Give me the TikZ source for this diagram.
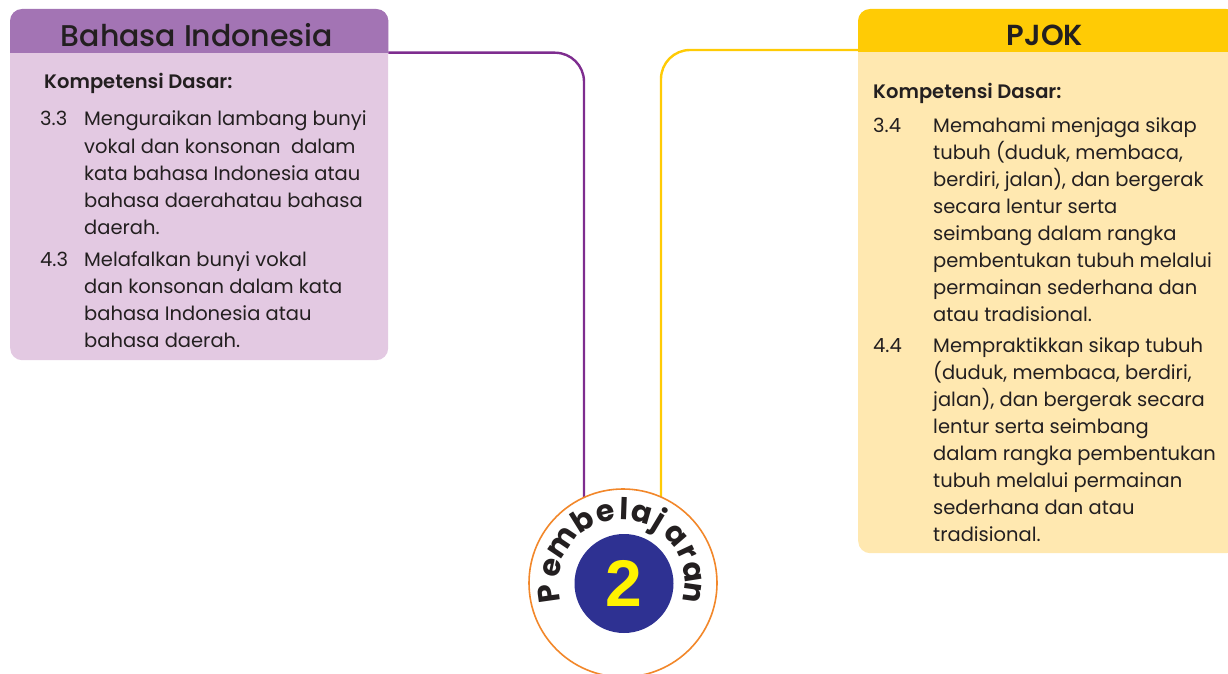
\documentclass[tikz,border=0pt]{standalone}
\usepackage{fontspec}
\setmainfont{Poppins}
\newfontfamily\ringfont{Poppins}
\newfontfamily\twofont{Liberation Sans}
\newfontfamily\medfont{Poppins Medium}
\newfontfamily\semifont{Poppins SemiBold}
\definecolor{purpHead}{HTML}{A374B4}
\definecolor{purpBody}{HTML}{E3C9E2}
\definecolor{purpLine}{HTML}{7E2D8F}
\definecolor{yelHead}{HTML}{FFCB05}
\definecolor{yelBody}{HTML}{FFE8B0}
\definecolor{yelLine}{HTML}{FFCB05}
\definecolor{orng}{HTML}{F2872A}
\definecolor{navy}{HTML}{2E3192}
\definecolor{numYel}{HTML}{FFF200}
\definecolor{txt}{HTML}{231F20}
\tikzset{
  title/.style={font=\medfont\fontsize{30}{32}\selectfont, text=txt, anchor=base, inner sep=0},
  kd/.style={font=\semifont\fontsize{19.5}{22}\selectfont, text=txt, anchor=base west, inner sep=0},
  num/.style={font=\fontsize{19.5}{27}\selectfont, text=txt, anchor=base west, inner sep=0},
  body/.style={font=\fontsize{19.5}{27}\selectfont, text=txt, anchor=base west, inner sep=0},
  conn/.style={line width=2.4, rounded corners=29},
  letter/.style={font=\ringfont\bfseries\fontsize{30}{30}\selectfont, text=txt, anchor=base, inner sep=0}
}
\newcommand{\para}[2]{\parbox[t]{#1pt}{\raggedright\fontsize{19.5}{27.1}\selectfont #2}}
\begin{document}
\begin{tikzpicture}[x=1pt,y=1pt]
\useasboundingbox (0,0) rectangle (1228,-674);
\clip (0,0) rectangle (1228,-674);

% boxes
\node[fill=purpBody, rounded corners=12, minimum width=378, minimum height=351, anchor=north west, inner sep=0] (bi) at (10,-9) {};
\begin{scope}
  \clip (bi.north west) rectangle ([yshift=-44]bi.north east);
  \fill[purpHead, rounded corners=12] (bi.north west) rectangle (bi.south east);
\end{scope}
\node[fill=yelBody, rounded corners=12, minimum width=380, minimum height=544, anchor=north west, inner sep=0] (pj) at (858,-9) {};
\begin{scope}
  \clip (pj.north west) rectangle ([yshift=-43]pj.north east);
  \fill[yelHead, rounded corners=12] (pj.north west) rectangle (pj.south east);
\end{scope}

% connectors
\coordinate (pl) at (584,-583);
\coordinate (yl) at (661,-583);
\draw[conn, purpLine] ([yshift=-43.7]bi.north east) -| (pl);
\draw[conn, yelLine] ([yshift=-41]pj.north west) -| (yl);

% titles
\node[title] (bit) at (197,-47) {Bahasa Indonesia};
\node[title, font=\semifont\fontsize{29}{32}\selectfont] (pjt) at (1045,-46) {PJOK};

% left text
\node[kd] (kd1) at (44,-89) {Kompetensi Dasar:};
\node[num] (n33) at (40,-126) {3.3};
\node[body] (t33) at (84,-126) {\para{300}{Menguraikan lambang bunyi\\vokal dan konsonan\ \ dalam\\kata bahasa Indonesia atau\\bahasa daerahatau bahasa\\daerah.}};
\node[num] (n43) at (40,-266) {4.3};
\node[body] (t43) at (84,-266) {\para{300}{Melafalkan bunyi vokal\\dan konsonan dalam kata\\bahasa Indonesia atau\\bahasa daerah.}};

% right text
\node[kd] (kd2) at (873,-99) {Kompetensi Dasar:};
\node[num] (n34) at (873,-132) {3.4};
\node[body] (t34) at (933,-132) {\para{300}{Memahami menjaga sikap\\tubuh (duduk, membaca,\\berdiri, jalan), dan bergerak\\secara lentur serta\\seimbang dalam rangka\\pembentukan tubuh melalui\\permainan sederhana dan\\atau tradisional.}};
\node[num] (n44) at (873,-352) {4.4};
\node[body] (t44) at (933,-352) {\para{300}{Mempraktikkan sikap tubuh\\(duduk, membaca, berdiri,\\jalan), dan bergerak secara\\lentur serta seimbang\\dalam rangka pembentukan\\tubuh melalui permainan\\sederhana dan atau\\tradisional.}};

% circle
\node[circle, draw=orng, line width=1.6, fill=white, minimum size=188, inner sep=0] (pb) at (623,-583) {};
\node[circle, fill=navy, minimum size=99, inner sep=0, text=numYel, font=\twofont\bfseries\fontsize{66}{66}\selectfont] (two) at (624,-583.5) {2};
\foreach \l/\a [count=\i] in {P/188, e/168, m/146, b/122, e/103, l/88, a/74, j/59, a/41, r/25, a/9, n/-8}
  \path (622,-583) ++(\a:63) node[letter, rotate=\a-90] (ch\i) {\l};
\end{tikzpicture}
\end{document}
